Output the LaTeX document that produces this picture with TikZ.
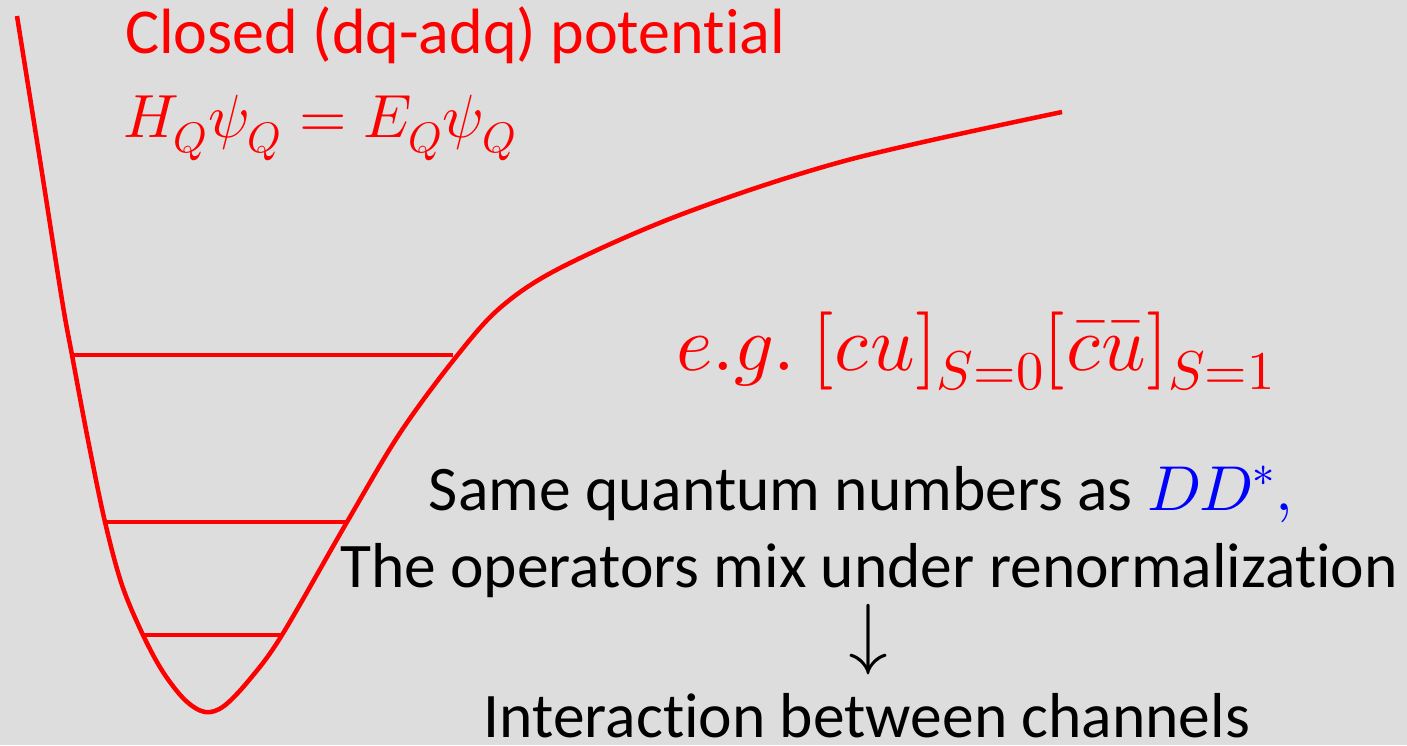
\documentclass[tikz,border=0pt]{standalone}
\usepackage{fontspec}
\usepackage{unicode-math}
\setmainfont{Carlito}[Ligatures=NoCommon, RawFeature={-liga;-clig;-dlig;-calt}]
\setmathfont{Latin Modern Math}
\definecolor{bgcol}{RGB}{221,221,221}
\definecolor{pred}{RGB}{255,0,0}
\definecolor{pblue}{RGB}{0,0,255}
\tikzset{
  curve/.style={draw=pred, line width=4.5pt, line join=round},
  levelline/.style={draw=pred, line width=4.5pt},
  redtxt/.style={text=pred, inner sep=0pt},
  blacktxt/.style={text=black, inner sep=0pt, font=\fontsize{63.5}{72}\selectfont},
}
\begin{document}
\begin{tikzpicture}[x=1pt,y=-1pt]
\fill[bgcol] (0,0) rectangle (1407,745);
\useasboundingbox (0,0) rectangle (1407,745);

% potential curve
\draw[curve] plot[smooth, tension=0.55] coordinates {
 (17,16) (40,160) (62,300) (72,355) (88,440) (105,522) (122,585) (143,635)
 (163,672) (185,700) (205,712) (224,706) (250,679) (282,635) (347,522) (400,433)
 (456,357) (501,307) (562,267) (685,213) (848,160) (1062,112)};

% energy levels
\coordinate (l1a) at (72,355);  \coordinate (l1b) at (453,355);
\coordinate (l2a) at (105,522); \coordinate (l2b) at (347,522);
\coordinate (l3a) at (143,635); \coordinate (l3b) at (282,635);
\draw[levelline] (l1a) -- (l1b);
\draw[levelline] (l2a) -- (l2b);
\draw[levelline] (l3a) -- (l3b);

% red labels
\node[redtxt, anchor=base west, font=\fontsize{64}{78}\selectfont] (title) at (125,53) {Closed (dq-adq) potent\kern0pt ial};
\node[redtxt, anchor=base west, font=\fontsize{61}{70}\selectfont] (eq) at (123,137) {$H_Q\psi_Q = E_Q\psi_Q$};
\node[redtxt, anchor=base west, font=\fontsize{78}{84}\selectfont] (eg) at (676,370) {$e.g.\ [cu]_{S=0}[\bar{c}\bar{u}]_{S=1}$};

% black text
\node[blacktxt, anchor=base] (same) at (861,510) {Same quantum numbers as \textcolor{pblue}{$DD^{*},$}};
\node[blacktxt, anchor=base] (ops) at (869,587) {The operators mix under renormalizat\kern0pt ion};
\node[blacktxt, anchor=center, font=\fontsize{80}{84}\selectfont] (arr) at (868,640) {$\downarrow$};
\node[blacktxt, anchor=base] (inter) at (867,737) {Interact\kern0pt ion between channels};
\end{tikzpicture}
\end{document}
